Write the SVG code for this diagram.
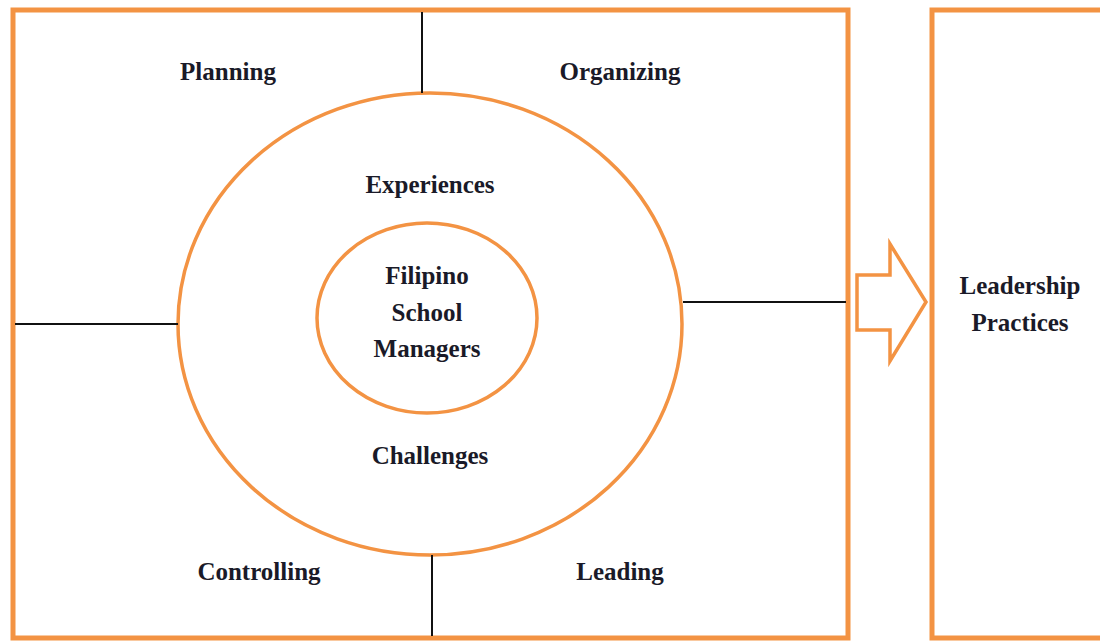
<svg xmlns="http://www.w3.org/2000/svg" width="1100" height="641" viewBox="0 0 1100 641">
<style>
.frame{fill:none;stroke:#F39343;stroke-width:5}
.ring{fill:none;stroke:#F39343;stroke-width:3.5}
.ln{stroke:#111;stroke-width:2;fill:none}
text{font-family:"Liberation Serif","Times New Roman",serif;font-weight:bold;font-size:25px;fill:#1a1a28;text-anchor:middle}
</style>
<rect width="1100" height="641" fill="#fff"/>
<g id="functions-box">
<rect class="frame" x="13" y="10" width="835" height="628"/>
<text x="228" y="80">Planning</text>
<text x="620" y="80">Organizing</text>
<text x="259" y="580">Controlling</text>
<text x="620" y="580">Leading</text>
</g>
<g id="outer-circle">
<ellipse class="ring" cx="430" cy="324" rx="252" ry="231"/>
<text x="430" y="193">Experiences</text>
<text x="430" y="464">Challenges</text>
</g>
<g id="inner-circle">
<ellipse class="ring" cx="427" cy="318" rx="110" ry="95"/>
<text x="427" y="284">Filipino</text>
<text x="427" y="321">School</text>
<text x="427" y="357">Managers</text>
</g>
<g id="leadership-box">
<rect class="frame" x="932" y="10" width="200" height="628"/>
<text x="1020" y="294">Leadership</text>
<text x="1020" y="331">Practices</text>
</g>
<g id="connectors">
<line class="ln" x1="422" y1="12" x2="422" y2="93"/>
<line class="ln" x1="15" y1="324" x2="178" y2="324"/>
<line class="ln" x1="683" y1="302" x2="846" y2="302"/>
<line class="ln" x1="432" y1="555" x2="432" y2="636"/>
<polygon points="857,275 890,275 890,244 926,302 890,361 890,330 857,330" fill="none" stroke="#F39343" stroke-width="3.5" stroke-linejoin="miter"/>
</g>
</svg>
